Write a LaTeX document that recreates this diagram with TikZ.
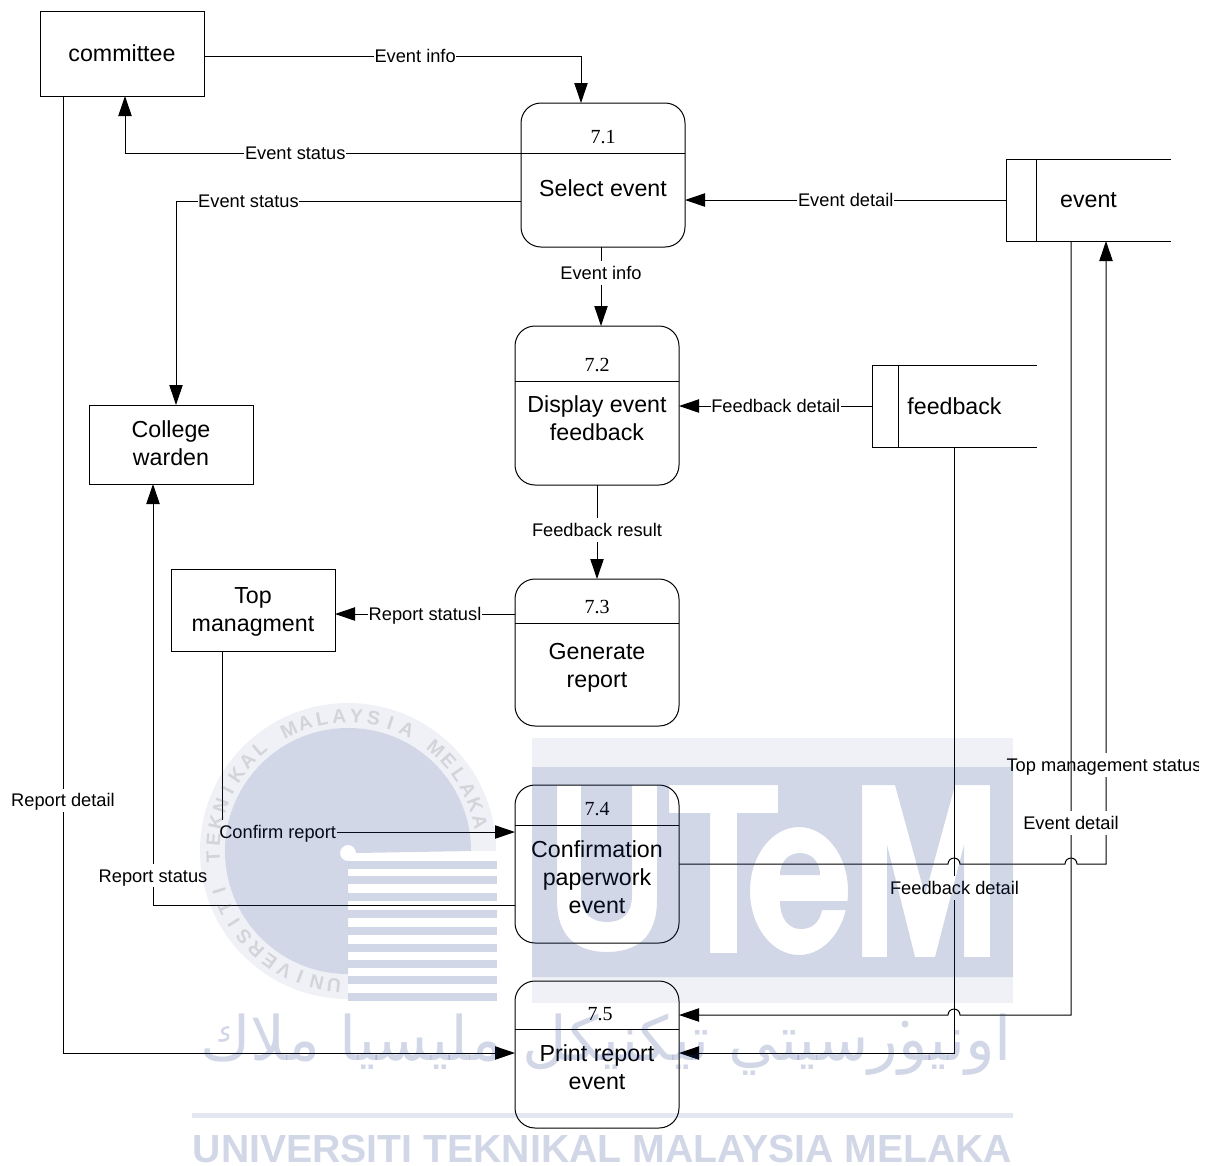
\documentclass[tikz,border=0pt]{standalone}
\usepackage{fontspec}
\setmainfont{Liberation Sans}
\newfontfamily\numfont{Liberation Serif}
\newfontfamily\jawifont[Script=Arabic]{DejaVu Sans}
\TeXXeTstate=1
\usetikzlibrary{arrows.meta}
\definecolor{wmblue}{RGB}{25,55,130}

\begin{document}
\begin{tikzpicture}[
  x=0.75pt, y=-0.75pt,
  >={Triangle[length=15pt,width=10pt]},
  line width=0.75pt,
  ent/.style={draw=black, outer sep=0pt, inner sep=0pt, minimum width=123pt, align=center,
              font=\fontsize{17.4}{21}\selectfont},
  proc/.style={draw=black, outer sep=0pt, minimum width=123pt, rounded corners=15pt},
  store/.style={outer sep=0pt, inner sep=0pt, minimum width=123pt, minimum height=61.5pt,
                font=\fontsize{17.4}{21}\selectfont},
  pname/.style={align=center, inner sep=0pt, font=\fontsize{17.4}{21}\selectfont},
  pnum/.style={inner sep=0pt, font=\numfont\fontsize{15}{18}\selectfont},
  flow/.style={->, draw=black},
  lbl/.style={fill=white, inner xsep=.5pt, inner ysep=1pt, text height=12.8pt, text depth=2.9pt,
              font=\fontsize{13.7}{16}\selectfont},
]
\useasboundingbox (0,0) rectangle (1210,1165);

% ---------------- external entities ----------------
\node[ent, minimum height=63.75pt] (committee) at (122,53.5) {committee};
\node[ent, minimum height=59.25pt, text depth=1.5pt] (warden) at (171,444.5) {College\\warden};
\node[ent, minimum height=61.5pt, text depth=0pt] (topmgmt) at (253,610) {Top\\managment};

% ---------------- processes ----------------
\node[proc, minimum height=108pt] (proc1) at (603,175) {};
\node[pnum] (num1) at (603,137) {7.1};
\node[pname] (name1) at (603,188) {Select event};
\draw (proc1.west |- 0,153) -- (proc1.east |- 0,153);

\node[proc, minimum height=119.25pt] (proc2) at (597,405.5) {};
\node[pnum] (num2) at (597,365) {7.2};
\node[pname] (name2) at (597,418) {Display event\\feedback};
\draw (proc2.west |- 0,381) -- (proc2.east |- 0,381);

\node[proc, minimum height=110.25pt] (proc3) at (597,652.5) {};
\node[pnum] (num3) at (597,607) {7.3};
\node[pname] (name3) at (597,668) {Generate\\report};
\draw (proc3.west |- 0,623) -- (proc3.east |- 0,623);

\node[proc, minimum height=118.5pt] (proc4) at (597,864) {};
\node[pnum] (num4) at (597,809) {7.4};
\node[pname] (name4) at (597,877) {Confirmation\\paperwork\\event};
\draw (proc4.west |- 0,825) -- (proc4.east |- 0,825);

\node[proc, minimum height=110.25pt] (proc5) at (597,1054.5) {};
\node[pnum] (num5) at (600,1014) {7.5};
\node[pname] (name5) at (597,1067) {Print report\\event};
\draw (proc5.west |- 0,1029) -- (proc5.east |- 0,1029);

% ---------------- data stores ----------------
\node[store] (event) at (1088.5,200) {event};
\draw (event.north east) -- (event.north west) -- (event.south west) -- (event.south east);
\draw (event.north west -| 1036,0) -- (event.south west -| 1036,0);

\node[store] (feedback) at (954.5,406) {feedback};
\draw (feedback.north east) -- (feedback.north west) -- (feedback.south west) -- (feedback.south east);
\draw (feedback.north west -| 898,0) -- (feedback.south west -| 898,0);

% ---------------- flows round 7.1 ----------------
\draw[flow] (committee.east |- 0,56) -- node[lbl,pos=.56]{Event info} (581,56) -- (proc1.north -| 581,0);
\draw[flow] (proc1.west |- 0,153) -- node[lbl,pos=.57]{Event status} (125,153) -- (committee.south -| 125,0);
\draw[flow] (proc1.west |- 0,201) -- node[lbl,pos=.79]{Event status} (176,201) -- (warden.north -| 176,0);
\draw[flow] (event.west) -- node[lbl]{Event detail} (proc1.east |- event.west);
\draw[flow] (proc1.south -| 601,0) -- node[lbl,pos=.33]{Event info} (proc2.north -| 601,0);

% ---------------- flows round 7.2 and 7.3 ----------------
\draw[flow] (feedback.west) -- node[lbl]{Feedback detail} (proc2.east |- feedback.west);
\draw[flow] (proc2.south) -- node[lbl,pos=.48]{Feedback result} (proc3.north);
\draw[flow] (proc3.west |- 0,614) -- node[lbl]{Report statusl} (topmgmt.east |- 0,614);

% ---------------- flows round 7.4 and 7.5 ----------------
\draw[flow] (topmgmt.south -| 222,0) -- (222,832) -- node[lbl,pos=.19]{Confirm report} (proc4.west |- 0,832);
\draw[flow] (proc4.west |- 0,905) -- (153,905) -- node[lbl,pos=.07]{Report status} (warden.south -| 153,0);
\draw[flow] (committee.south -| 63,0) -- node[lbl,pos=.736]{Report detail} (63,1053) -- (proc5.west |- 0,1053);
\draw[flow] (feedback.south) -- node[lbl,pos=.728]{Feedback detail} (954.5,1053) -- (proc5.east |- 0,1053);

% line hops where the flows cross
\draw[flow] (proc4.east) -- (948,864) arc (180:360:6) -- (1065,864) arc (180:360:6) -- (1106,864)
  -- (event.south -| 1106,0);
\begin{scope}
  \clip (1000,750) rectangle (1198,780);
  \node[lbl] (topstatus) at (1104,765) {Top management status};
\end{scope}
\draw[flow] (event.south -| 1071,0) -- node[lbl,pos=.752]{Event detail} (1071,1015) -- (960,1015)
  arc (360:180:6) -- (proc5.east |- 0,1015);

% ---------------- watermark, laid over the drawing ----------------
\begin{scope}[opacity=.2, wmblue]
  % seal
  \fill (348,974) arc (90:360:123) -- (356,853) arc (360:90:8) -- cycle;
  \foreach \ytop in {861,876,893,910,927,944,960,976,993}
    \fill (348,\ytop) rectangle (497,\ytop+7.5);
  % block with the letters cut out
  \fill[even odd rule] (532,767) rectangle (1013,977)
    (557,785) -- (557,900) .. controls (557,938) and (578,952) .. (607,952)
      .. controls (636,952) and (657,938) .. (657,900) -- (657,785) -- (632,785) -- (632,895)
      .. controls (632,914) and (622,922) .. (607,922) .. controls (592,922) and (581,914) .. (581,895)
      -- (581,785) -- cycle
    (669,785) -- (778,785) -- (778,813) -- (737,813) -- (737,953) -- (710,953) -- (710,813)
      -- (669,813) -- cycle
    (799,891) ellipse [x radius=49, y radius=64]
    (780,875) .. controls (780,860) and (790,853) .. (800,853)
      .. controls (810,853) and (820,860) .. (820,875) -- cycle
    (780,901) -- (847,901) -- (846,910) -- (822,910) .. controls (820,922) and (812,929) .. (801,929)
      .. controls (788,929) and (780,918) .. (780,901) -- cycle
    (862,785) -- (895,785) -- (925,895) -- (955,785) -- (990,785) -- (990,957) -- (964,957)
      -- (964,845) -- (935,957) -- (915,957) -- (887,845) -- (887,957) -- (862,957) -- cycle;
  \fill[opacity=.12] (192,1113) rectangle (1013,1118);
  \node[anchor=base, inner sep=0pt, font=\fontsize{29.4}{36}\selectfont\bfseries] (wmname) at (602.5,1162)
    {UNIVERSITI TEKNIKAL MALAYSIA MELAKA};
  \node[inner sep=0pt, font=\jawifont\fontsize{46}{54}\selectfont] (wmjawi) at (606,1045)
    {\beginR اونيورسيتي تيكنيكل مليسيا ملاك\endR};
  \fill (905,1024) circle (3.5);
  \foreach \ch [count=\i] in {U,N,I,V,E,R,S,I,T,I,,T,E,K,N,I,K,A,L,,M,A,L,A,Y,S,I,A,,M,E,L,A,K,A} {
    \pgfmathsetmacro{\ang}{264-7.4*(\i-1)}
    \node[inner sep=0pt, rotate=\ang-90, black!60, font=\fontsize{14.5}{18}\selectfont\bfseries] (ring\i)
      at ({348+135*cos(\ang)},{851-135*sin(\ang)}) {\ch};
  }
\end{scope}
\begin{scope}[opacity=.07, wmblue]
  \fill (348,999) arc (90:360:148) -- (471,851) arc (360:90:123) -- cycle;
  \fill (532,738) rectangle (1013,767);
  \fill (532,977) rectangle (1013,1003);
\end{scope}

\end{tikzpicture}
\end{document}
